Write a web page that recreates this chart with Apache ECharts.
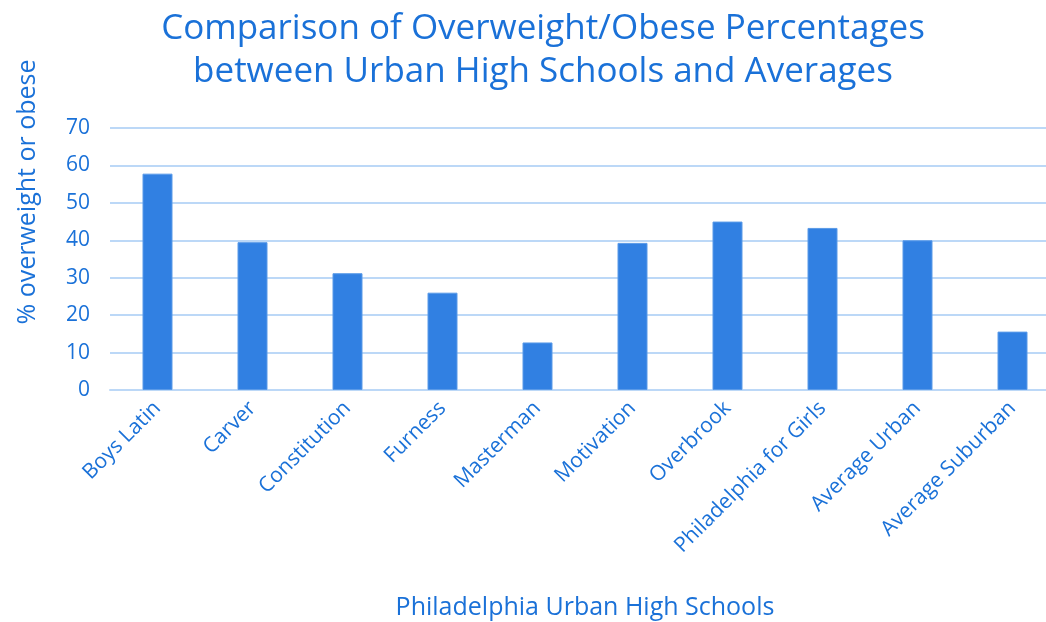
<!DOCTYPE html>
<html><head><meta charset="utf-8">
<script src="https://cdn.jsdelivr.net/npm/echarts@6/dist/echarts.min.js"></script>
<style>html,body{margin:0;padding:0;background:#fff}#c{width:1046px;height:622px}</style>
</head><body><div id="c"></div>
<script>
const categories = ["Boys Latin","Carver","Constitution","Furness","Masterman","Motivation","Overbrook","Philadelphia for Girls","Average Urban","Average Suburban"];
const values = [57.8, 39.5, 31.2, 26.0, 12.7, 39.3, 45.0, 43.3, 40.0, 15.6];
const yTicks = [0,10,20,30,40,50,60,70];
const titleText = "Comparison of Overweight/Obese Percentages\nbetween Urban High Schools and Averages";
const yName = "% overweight or obese";
const xName = "Philadelphia Urban High Schools";

const FONT = "Open Sans";
const TXT = "#1a71d8";
const chart = echarts.init(document.getElementById('c'), null, {renderer:'canvas'});
chart.setOption({
  animation:false,
  grid:{left:110,top:128,width:950,height:262,containLabel:false,outerBoundsMode:'none'},
  xAxis:{type:'category',data:categories,
    axisLine:{show:true,lineStyle:{color:'#bcd8f7',width:2}},
    axisTick:{show:false},
    axisLabel:{rotate:45,interval:0,fontFamily:FONT,fontSize:21,color:TXT,margin:15},
    name:xName,nameLocation:'middle',nameGap:205,
    nameTextStyle:{fontFamily:FONT,fontSize:25,color:TXT}},
  yAxis:{type:'value',min:yTicks[0],max:yTicks[yTicks.length-1],interval:10,
    axisLine:{show:false},axisTick:{show:false},
    splitLine:{lineStyle:{color:'#bcd8f7',width:2}},
    axisLabel:{fontFamily:FONT,fontSize:21,color:TXT,margin:20}},
  graphic:[
    {type:'text',x:543,y:8,
      style:{text:titleText,fontFamily:FONT,fontSize:35,lineHeight:43,fill:TXT,align:'center',verticalAlign:'top'}},
    {type:'text',x:28,y:192,rotation:Math.PI/2,
      style:{text:yName,fontFamily:FONT,fontSize:25,fill:TXT,align:'center',verticalAlign:'middle'}}],
  series:[{type:'bar',data:values,barWidth:30,
    itemStyle:{color:'#3180e2',borderColor:'#5a9ae8',borderWidth:1}}]
});
</script></body></html>
